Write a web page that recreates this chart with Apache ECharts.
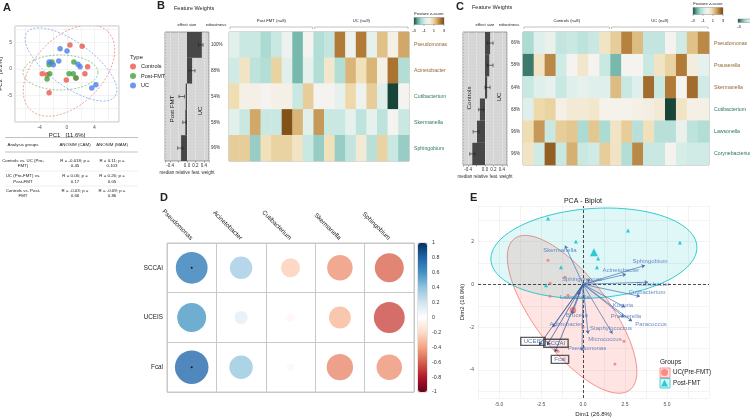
<!DOCTYPE html>
<html><head><meta charset="utf-8">
<script src="https://cdn.jsdelivr.net/npm/echarts@6/dist/echarts.min.js"></script>
<style>html,body{margin:0;padding:0;background:#fff}#c{width:750px;height:417px}</style>
</head><body><div id="c"></div>
<script>
// ---------------- DATA ----------------
// Panel A : PCA of communities
const typeNames = ['Controls', 'Post-FMT', 'UC'];
const pcaControls = [[0.43,4.5],[2.2,4.3],[3.0,0.4],[2.6,-0.9],[-0.1,-2.1],[1.3,-1.7],[-3.6,-0.9],[-2.9,-1.1],[-2.6,-4.5]];
const pcaPostFMT = [[-2.2,1.3],[-2.6,0.8],[-2.5,-0.9],[-2.9,-1.9],[1.0,1.3],[0.3,-0.9],[0.9,-0.9],[1.3,-1.7]];
const pcaUC = [[-1.0,3.8],[0,3.4],[-1.2,1.5],[-2.6,1.3],[-2.0,0.8],[1.6,0.9],[1.9,0.4],[3.6,-3.6],[4.2,-3.0]];
// ellipses (centre + two semi-axis vectors, data units) : Controls, Post-FMT, UC
const ellipseA = [
  {c:[0.29,-0.3], a:[5.66,7.33], b:[3.49,-4.52]},
  {c:[-0.95,-0.66], a:[5.45,0], b:[0,3.3]},
  {c:[0.58,0.85], a:[6.4,-6.03], b:[-1.89,-3.35]}
];
const pcaXTicks = [-4, 0, 4];
const pcaYTicks = [-5, 0, 5];
const tableHeader = ['Analysis groups', 'ANOSIM (CAM)', 'ANOSIM (MAM)'];
const tableRows = [
  [['Controls vs. UC (Pre-', 'FMT)'], ['R = -0.018; p =', '0.45'], ['R = 0.11; p =', '0.103']],
  [['UC (Pre-FMT) vs.', 'Post-FMT'], ['R = 0.06; p =', '0.17'], ['R = 0.26; p =', '0.05']],
  [['Controls vs. Post-', 'FMT'], ['R = -0.03; p =', '0.66'], ['R = -0.09; p =', '0.86']]
];

// Panel B : feature weights Post-FMT vs UC
const taxaB = ['Pseudomonas', 'Acinetobacter', 'Cutibacterium', 'Skermanella', 'Sphingobium'];
const effB = [0.35, 0.12, -0.03, -0.04, -0.14];
const errB = [[0.27,0.38],[0.05,0.19],[-0.19,-0.06],[-0.1,-0.02],[-0.22,-0.1]];
const robB = ['100%', '88%', '54%', '58%', '96%'];
const samplesB = ['P1','P2','P3','P4','P5','P6','P7','P8','U1','U2','U3','U4','U5','U6','U7','U8','U9'];
const groupsB = [['Post FMT (n=8)', 8], ['UC (n=9)', 9]];
const sideB = ['Post FMT', 'UC'];
const heatB = [
  [-0.5,-1,-1,-1.5,-1,-0.2,-2,0, -1.4,-1.1,2.2,-0.2,2.2,-0.4,1.2,0.1,1.6],
  [-0.9,0.5,-1.2,-1.4,0.9,-0.5,-2,-0.4, -1.4,0.4,-1.4,1.4,0.6,1.4,0.1,2.3,-1.4],
  [0.7,0.1,0.1,0,0.1,0.1,-1,1.0, 0,0,-0.4,0.8,-0.2,1.0,-0.6,-3,0],
  [-0.5,-1,1.6,-1,-1,2.8,1.4,-0.5, 1.8,-1,-1,-0.4,-1.2,-0.4,-1.2,0,-1],
  [1.0,1.0,-1.7,0.6,0.9,0.9,0.5,-1, -1.7,0.6,-1.7,-1.1,0.3,-1.3,0.9,-1,-1.7]
];

// Panel C : feature weights Controls vs UC
const taxaC = ['Pseudomonas', 'Prauserella', 'Skermanella', 'Cutibacterium', 'Lawsonella', 'Corynebacterium'];
const effC = [0.12, 0.10, 0.05, -0.12, -0.19, -0.30];
const errC = [[0.06,0.19],[0.06,0.19],[0.0,0.12],[-0.15,-0.03],[-0.28,-0.14],[-0.36,-0.24]];
const robC = ['66%', '58%', '64%', '68%', '96%', '96%'];
const samplesC = ['C1','C2','C3','C4','C5','C6','C7','C8','U1','U2','U3','U4','U5','U6','U7','U8','U9'];
const groupsC = [['Controls (n=8)', 8], ['UC (n=9)', 9]];
const sideC = ['Controls', 'UC'];
const heatC = [
  [-1.5,-0.6,-0.3,-1.1,-1,-1.2,-1, 0.5,1.0,2.1,1.3,-1.1,-1.1,0.0,-0.9,1.2,2.0],
  [-2.6,0.5,2.0,-0.9,0,0.4,0, -1.0,-2.0,0,0,-1.0,0.5,0.9,2.2,0.2,-0.4],
  [-1,-0.6,-0.4,-1,-0.6,-0.4,-0.6, -0.6,1.3,-1,-0.6,2.4,-1,2.2,0,2.4,-0.9],
  [-0.6,0.8,0.9,0.1,0.3,0.3,0.4, 0.05,0.05,0.05,0.1,0.15,0.3,-3,0.5,0.1,0.1],
  [0.7,1.8,-1,1.0,1.1,-1.5,1.1, -1.5,0.5,1.0,-1.3,0.6,-1.3,-1.3,-0.3,-1.2,-1.4],
  [0.5,-0.9,2.6,-1.0,1.5,-1.0,-0.9, 1.0,0.5,-1.4,2.0,-1.0,-1.0,0.0,-0.8,-0.9,-0.9]
];
const effTicks = [-0.4, 0, 0.2, 0.4];
const zTicks = [-3, -1, 1, 3];

// Panel D : correlations
const corrTaxa = ['Pseudomonas', 'Acinetobacter', 'Cutibacterium', 'Skermanella', 'Sphingobium'];
const corrIdx = ['SCCAI', 'UCEIS', 'Fcal'];
const corrSCCAI = [0.70, 0.35, -0.25, -0.45, -0.58];
const corrUCEIS = [0.58, 0.12, -0.05, -0.33, -0.66];
const corrFcal = [0.78, 0.38, 0.04, -0.48, -0.45];
const corrSig = [[true,false,false,false,false],[false,false,false,false,false],[true,false,false,false,false]];

// Panel E : PCA biplot
const groupsE = ['UC(Pre-FMT)', 'Post-FMT'];
const bipUC = [[-2.08,1.12],[-1.07,0.33],[-1.96,0.05],[-1.96,-0.56],[-0.89,-0.51],[-1.49,-3.12],[2.44,-2.65],[1.9,-3.72],[0,-2.0]];
const bipPost = [[-2.08,3.07],[-0.42,2.0],[-1.31,0.79],[-2.2,-0.05],[0.83,0.79],[2.68,2.51],[5.77,1.95],[0.9,1.2]];
const meanUC = [-0.6, -1.21];
const meanPost = [0.65, 1.49];
const ellipseE = [
  {c:[-0.65,-1.4], a:[3.43,-3.53], b:[1.76,1.04]},
  {c:[0.65,1.45], a:[6.13,0.33], b:[0.19,-2.08]}
];
const varNames = ['Skermanella','Sphingobium','Acinetobacter','Sphingomonas','Rubrobacter','Cutibacterium','Lawsonella','Kocuria','Brucella','Prauserella','Arthrobacter','Paracoccus','Staphylococcus','Micrococcus','Pseudomonas'];
const varEnds = [[-1.07,1.81],[3.69,0.88],[2.56,0.47],[0.42,0.23],[3.87,0.1],[3.39,-0.56],[-0.3,-0.5],[2.5,-1.07],[-0.65,-1.4],[2.44,-1.53],[-1.8,-2.0],[2.92,-1.72],[0.3,-2.3],[1.75,-2.3],[-0.06,-3.1]];
const varLabelPos = [[-1.37,1.59],[3.99,1.07],[2.26,0.65],[-0.06,0.23],[4.17,0.0],[3.81,-0.37],[-0.48,-0.61],[2.38,-0.98],[-0.36,-1.45],[2.56,-1.49],[-1.01,-1.86],[4.05,-1.86],[1.67,-2.05],[1.31,-2.56],[0.24,-2.98]];
const supNames = ['UCEIS', 'SCCAI', 'Fcal'];
const supEnds = [[-2.62,-2.84],[-2.14,-2.84],[-1.67,-3.16]];
const supLabelPos = [[-2.98,-2.66],[-1.61,-2.75],[-1.37,-3.5]];

// ---------------- STYLE ----------------
const FONT = 'Liberation Sans, Arial, sans-serif';
const colA = ['#e8574e', '#3da33d', '#4a7fe8'];
const colE = ['#F8766D', '#00BFC4'];
const brbg = ['#17453a','#5ea89b','#acdbd3','#d9eeea','#f5f3ef','#efdcae','#d6b070','#ae7633','#74450f'];
const rdbu = ['#67001F','#B2182B','#D6604D','#F4A582','#FDDBC7','#FFFFFF','#D1E5F0','#92C5DE','#4393C3','#2166AC','#053061'];
const posCol = '#936a35', negCol = '#2f7566';
const blue = '#4670b5';

const near = (v, arr) => arr.some(t => Math.abs(v - t) < 1e-6);

function txt(x, y, text, o = {}) {
  const al = o.align || 'center', va = o.va || 'middle';
  return {type:'text', x, y, rotation:o.rot || 0, silent:true, z:100,
    style:{text, fontSize:o.size || 5, fontFamily:FONT, fontWeight:o.bold ? 'bold' : 'normal',
      fill:o.color || '#222', align:al, verticalAlign:va, textAlign:al, textVerticalAlign:va}};
}
function ln(x1, y1, x2, y2, color, w) {
  return {type:'line', silent:true, z:90, shape:{x1, y1, x2, y2}, style:{stroke:color, lineWidth:w}};
}
function gradBar(x, y, w, h) {
  const stops = brbg.map((c, i) => ({offset:i / (brbg.length - 1), color:c}));
  return {type:'rect', silent:true, z:90, shape:{x, y, width:w, height:h},
    style:{fill:new echarts.graphic.LinearGradient(0, 0, 1, 0, stops), stroke:'#777', lineWidth:0.4}};
}
function ellipsePts(api, e, n) {
  const pts = [];
  for (let k = 0; k < n; k++) {
    const t = 2 * Math.PI * k / n;
    pts.push(api.coord([e.c[0] + e.a[0] * Math.cos(t) + e.b[0] * Math.sin(t),
                        e.c[1] + e.a[1] * Math.cos(t) + e.b[1] * Math.sin(t)]));
  }
  return pts;
}
function errRender(p, api) {
  const lo = api.coord([api.value(1), api.value(0)]);
  const hi = api.coord([api.value(2), api.value(0)]);
  const s = {stroke:'#222', lineWidth:0.6};
  return {type:'group', children:[
    {type:'line', shape:{x1:lo[0], y1:lo[1], x2:hi[0], y2:hi[1]}, style:s},
    {type:'line', shape:{x1:lo[0], y1:lo[1] - 1.8, x2:lo[0], y2:lo[1] + 1.8}, style:s},
    {type:'line', shape:{x1:hi[0], y1:hi[1] - 1.8, x2:hi[0], y2:hi[1] + 1.8}, style:s}
  ]};
}

// ---------------- LAYOUT ----------------
const G = (left, top, width, height, extra = {}) => Object.assign({left, top, width, height, containLabel:false, outerBoundsMode:'none', show:false}, extra);
const grids = [
  G(15, 26, 104, 96, {show:true, borderColor:'#b0b0b0', borderWidth:0.8, backgroundColor:'#fff'}), // 0 A
  G(165, 32, 44, 129, {show:true, borderColor:'#777', borderWidth:0.7, backgroundColor:'#d6d6d6'}), // 1 B bars
  G(229, 32, 180, 129, {show:true, borderColor:'#888', borderWidth:0.7}), // 2 B heat
  G(463, 32, 44, 133, {show:true, borderColor:'#777', borderWidth:0.7, backgroundColor:'#d6d6d6'}), // 3 C bars
  G(523, 32, 186, 133, {show:true, borderColor:'#888', borderWidth:0.7}), // 4 C heat
  G(167, 243, 247, 149, {show:true, borderColor:'#c8c8c8', borderWidth:1}), // 5 D
  G(418, 243, 9, 149, {show:true, borderColor:'#777', borderWidth:0.4}), // 6 D colourbar axis
  G(478, 206, 231, 192) // 7 E
];

const smallLab = {fontSize:4.5, color:'#333', fontFamily:FONT};
const effAxis = (gi) => ({gridIndex:gi, type:'value', min:-0.52, max:0.52, splitNumber:5,
  axisLine:{show:false}, axisTick:{show:true, length:1.5, lineStyle:{color:'#555', width:0.5}},
  axisLabel:Object.assign({margin:2, formatter:v => near(v, effTicks) ? v.toFixed(1) : ''}, smallLab),
  splitLine:{show:true, lineStyle:{color:'#f4f4f4', width:0.5, type:'dashed'}},
  name:'median relative feat. weight', nameLocation:'middle', nameGap:9, nameTextStyle:smallLab});
const robAxis = (gi, taxa, rob, margin) => ({gridIndex:gi, type:'category', data:taxa, inverse:true, position:'right',
  axisLine:{show:false}, axisTick:{show:false}, splitLine:{show:false},
  axisLabel:Object.assign({interval:0, margin, align:'left', formatter:(v, i) => rob[i]}, smallLab)});
const heatX = (gi, samples) => ({gridIndex:gi, type:'category', data:samples, show:false});
const heatY = (gi, taxa, eff) => ({gridIndex:gi, type:'category', data:taxa, inverse:true, position:'right',
  axisLine:{show:false}, axisTick:{show:false}, splitLine:{show:false},
  axisLabel:{interval:0, margin:5, align:'left', fontSize:5.2, fontFamily:FONT,
    color:(v, i) => eff[i] > 0 ? posCol : negCol}});

const xAxes = [
  {gridIndex:0, type:'value', min:-7.56, max:7.56, splitNumber:7,
    axisLine:{show:false}, axisTick:{show:false},
    axisLabel:{fontSize:5, color:'#555', margin:3, fontFamily:FONT, formatter:v => near(v, pcaXTicks) ? String(Math.round(v)) : ''},
    splitLine:{lineStyle:{color:'#ebebeb', width:0.6}},
    name:'PC1   [11.6%]', nameLocation:'middle', nameGap:10, nameTextStyle:{fontSize:6, color:'#222', fontFamily:FONT}},
  effAxis(1), heatX(2, samplesB), effAxis(3), heatX(4, samplesC),
  {gridIndex:5, type:'category', data:corrTaxa, position:'top', axisLine:{show:false}, axisTick:{show:false},
    axisLabel:{interval:0, rotate:45, margin:4, fontSize:6.3, color:'#222', fontFamily:FONT},
    splitLine:{show:true, lineStyle:{color:'#c8c8c8', width:1}}},
  {gridIndex:6, type:'value', min:0, max:1, show:false},
  {gridIndex:7, type:'value', min:-6.25, max:7.5, interval:1.25,
    axisLine:{show:false}, axisTick:{show:false},
    axisLabel:{fontSize:5, color:'#4d4d4d', margin:4, fontFamily:FONT,
      formatter:v => (Math.abs(v) <= 5.01 && Math.abs(v / 2.5 - Math.round(v / 2.5)) < 1e-6) ? v.toFixed(1) : ''},
    splitLine:{lineStyle:{color:'#ebebeb', width:0.6}},
    name:'Dim1 (26.8%)', nameLocation:'middle', nameGap:13, nameTextStyle:{fontSize:6, color:'#222', fontFamily:FONT}}
];
const yAxes = [
  {gridIndex:0, type:'value', min:-10, max:8.1, interval:2.5,
    axisLine:{show:false}, axisTick:{show:false},
    axisLabel:{fontSize:5, color:'#555', margin:3, fontFamily:FONT, formatter:v => near(v, pcaYTicks) ? String(Math.round(v)) : ''},
    splitLine:{lineStyle:{color:'#ebebeb', width:0.6}},
    name:'PC2   [9.2%]', nameLocation:'middle', nameGap:8, nameTextStyle:{fontSize:6, color:'#222', fontFamily:FONT}},
  robAxis(1, taxaB, robB, 2), heatY(2, taxaB, effB), robAxis(3, taxaC, robC, 4), heatY(4, taxaC, effC),
  {gridIndex:5, type:'category', data:corrIdx, inverse:true, axisLine:{show:false}, axisTick:{show:false},
    axisLabel:{interval:0, margin:4, fontSize:6.3, color:'#222', fontFamily:FONT},
    splitLine:{show:true, lineStyle:{color:'#c8c8c8', width:1}}},
  {gridIndex:6, type:'value', min:-1, max:1, interval:0.2, position:'right',
    axisLine:{show:false}, axisTick:{show:false}, splitLine:{show:false},
    axisLabel:{fontSize:5.3, color:'#333', margin:5, fontFamily:FONT}},
  {gridIndex:7, type:'value', min:-5.3, max:3.65, splitNumber:9,
    axisLine:{show:false}, axisTick:{show:false},
    axisLabel:{fontSize:5, color:'#4d4d4d', margin:4, fontFamily:FONT,
      formatter:v => (Math.abs(v - Math.round(v)) < 1e-6 && Math.round(v) % 2 === 0 && v > -5.2) ? String(Math.round(v)) : ''},
    splitLine:{lineStyle:{color:'#ebebeb', width:0.6}},
    name:'Dim2 (19.9%)', nameLocation:'middle', nameGap:8, nameTextStyle:{fontSize:6, color:'#222', fontFamily:FONT}}
];

// ---------------- SERIES ----------------
const series = [];
const ax = (i) => ({xAxisIndex:i, yAxisIndex:i});
[pcaControls, pcaPostFMT, pcaUC].forEach((d, i) => series.push(Object.assign({type:'scatter', name:typeNames[i], data:d,
  symbolSize:5.5, itemStyle:{color:colA[i]}, z:5}, ax(0))));
series.push(Object.assign({type:'custom', clip:true, data:ellipseA.map((e, i) => [e.c[0], e.c[1], i]), encode:{x:0, y:1}, z:3,
  renderItem:(p, api) => ({type:'polygon', shape:{points:ellipsePts(api, ellipseA[p.dataIndex], 90)},
    style:{fill:'none', stroke:colA[p.dataIndex], lineWidth:0.8, lineDash:[2, 1.6], opacity:0.7}})}, ax(0)));

function featureSeries(gBar, gHeat, eff, err, heat) {
  series.push(Object.assign({type:'bar', data:eff, barCategoryGap:'0%', itemStyle:{color:'#474747'}, z:3}, ax(gBar)));
  series.push(Object.assign({type:'custom', data:err.map((e, i) => [i, e[0], e[1]]), encode:{x:[1, 2], y:0}, z:5, renderItem:errRender}, ax(gBar)));
  const hd = [];
  heat.forEach((row, r) => row.forEach((v, c) => hd.push([c, r, v])));
  series.push(Object.assign({type:'heatmap', data:hd, itemStyle:{borderWidth:0}}, ax(gHeat)));
  return series.length - 1;
}
const heatIdxB = featureSeries(1, 2, effB, errB, heatB);
const heatIdxC = featureSeries(3, 4, effC, errC, heatC);

const corrRows = [corrSCCAI, corrUCEIS, corrFcal];
const corrData = [], sigData = [];
corrRows.forEach((row, r) => row.forEach((v, c) => { corrData.push([c, r, v]); if (corrSig[r][c]) sigData.push([c, r]); }));
series.push(Object.assign({type:'scatter', data:corrData, symbolSize:v => Math.sqrt(Math.abs(v[2])) * 38, z:4}, ax(5)));
const corrIdxS = series.length - 1;
series.push(Object.assign({type:'scatter', data:sigData, symbolSize:2, itemStyle:{color:'#000'}, z:6}, ax(5)));
series.push(Object.assign({type:'scatter', data:[]}, ax(6)));

// E
series.push(Object.assign({type:'custom', clip:true, data:ellipseE.map((e, i) => [e.c[0], e.c[1], i]), encode:{x:0, y:1}, z:2,
  renderItem:(p, api) => ({type:'polygon', shape:{points:ellipsePts(api, ellipseE[p.dataIndex], 120)},
    style:{fill:p.dataIndex === 0 ? 'rgba(248,118,109,0.2)' : 'rgba(0,191,196,0.12)', stroke:colE[p.dataIndex], lineWidth:0.8}})}, ax(7)));
series.push(Object.assign({type:'scatter', name:groupsE[0], data:bipUC, symbol:'circle', symbolSize:3, itemStyle:{color:colE[0]}, z:5,
  markLine:{silent:true, symbol:['none', 'none'], label:{show:false}, lineStyle:{type:[3, 2], color:'#222', width:0.8},
    data:[{xAxis:0}, {yAxis:0}]}}, ax(7)));
series.push(Object.assign({type:'scatter', name:groupsE[1] + ' ', data:bipPost, symbol:'triangle', symbolSize:4, itemStyle:{color:colE[1]}, z:5}, ax(7)));
series.push(Object.assign({type:'scatter', data:[meanUC], symbol:'circle', symbolSize:6.5, itemStyle:{color:colE[0]}, z:5}, ax(7)));
series.push(Object.assign({type:'scatter', data:[meanPost], symbol:'triangle', symbolSize:8, itemStyle:{color:colE[1]}, z:5}, ax(7)));
series.push(Object.assign({type:'lines', coordinateSystem:'cartesian2d', z:6, symbol:['none', 'arrow'], symbolSize:3.5,
  lineStyle:{color:blue, width:0.7, opacity:1}, data:varEnds.map(p => ({coords:[[0, 0], p]}))}, ax(7)));
series.push(Object.assign({type:'scatter', z:8, symbolSize:1, itemStyle:{color:'rgba(0,0,0,0)'},
  label:{show:true, position:'inside', formatter:'{b}', fontSize:6, color:blue, fontFamily:FONT},
  data:varLabelPos.map((p, i) => ({name:varNames[i], value:p}))}, ax(7)));
series.push(Object.assign({type:'lines', coordinateSystem:'cartesian2d', z:6, symbol:['none', 'arrow'], symbolSize:3.5,
  lineStyle:{color:'#2c4f91', width:0.7, opacity:1}, data:supEnds.map(p => ({coords:[[0, 0], p]}))}, ax(7)));
series.push(Object.assign({type:'scatter', z:8, symbolSize:1, itemStyle:{color:'rgba(0,0,0,0)'},
  label:{show:true, position:'inside', formatter:'{b}', fontSize:6, color:'#2c4f91', fontFamily:FONT,
    borderColor:'#333', borderWidth:0.7, padding:[1.5, 3, 0.5, 3], backgroundColor:'rgba(255,255,255,0)'},
  data:supLabelPos.map((p, i) => ({name:supNames[i], value:p}))}, ax(7)));

// ---------------- GRAPHICS (titles, table, brackets, colour bars) ----------------
const els = [];
els.push(txt(3, 8, 'A', {size:11, bold:true, align:'left'}));
els.push(txt(157, 6, 'B', {size:11, bold:true, align:'left'}));
els.push(txt(456, 7, 'C', {size:11, bold:true, align:'left'}));
els.push(txt(160, 198, 'D', {size:11, bold:true, align:'left'}));
els.push(txt(470, 198, 'E', {size:11, bold:true, align:'left'}));
// A legend title and table
els.push(txt(130, 57, 'Type', {size:6, align:'left'}));
const tabX = [23, 75, 112];
tableHeader.forEach((h, i) => els.push(txt(tabX[i], 145, h, {size:4.4})));
els.push(ln(5, 137.5, 138, 137.5, '#999', 0.6));
els.push(ln(5, 152, 138, 152, '#999', 0.6));
els.push(ln(5, 171, 138, 171, '#ddd', 0.5));
els.push(ln(5, 186, 138, 186, '#ddd', 0.5));
const rowY = [160.5, 176, 190.5];
tableRows.forEach((row, r) => row.forEach((cell, c) => cell.forEach((t, k) => els.push(txt(tabX[c], rowY[r] + k * 5.5, t, {size:4.4})))));

function featureDecor(titleX, barL, barR, heatL, heatR, nCols, groups, sides, sideX, sideY, cbX, cbY, tickY, fwY, robX) {
  els.push(txt(titleX, fwY, 'Feature Weights', {size:5.5, align:'left'}));
  els.push(txt((barL + barR) / 2, 25, 'effect size', {size:4.2}));
  els.push(txt(robX, 25, 'robustness', {size:4.2}));
  const cw = (heatR - heatL) / nCols;
  let start = 0;
  groups.forEach(([lab, n]) => {
    const x1 = heatL + start * cw + 1, x2 = heatL + (start + n) * cw - 1;
    els.push({type:'polyline', silent:true, z:90, shape:{points:[[x1, 29], [x1, 27], [x2, 27], [x2, 29]]}, style:{stroke:'#999', lineWidth:0.6, fill:'none'}});
    els.push(txt((x1 + x2) / 2, 21, lab, {size:4.2}));
    start += n;
  });
  els.push(txt(sideX[0], sideY[0], sides[0], {size:6.2, rot:Math.PI / 2}));
  els.push(txt(sideX[1], sideY[1], sides[1], {size:6.2, rot:Math.PI / 2}));
  els.push(txt(cbX + 15, cbY - 4, 'Feature z-score', {size:4.2}));
  els.push(gradBar(cbX, cbY, 30, 7));
  zTicks.forEach(t => {
    const x = cbX + (t + 3) / 6 * 30;
    els.push(ln(x, cbY + 7, x, cbY + 8.5, '#555', 0.4));
    els.push(txt(x, tickY, String(t), {size:4.2}));
  });
}
featureDecor(174, 165, 209, 229, 409, 17, groupsB, sideB, [172, 200], [109, 111], 414, 17.5, 31, 8, 216);
featureDecor(472, 463, 507, 523, 709, 17, groupsC, sideC, [469, 499], [98, 97], 693, 7.5, 20.5, 7, 509);
// partially visible neighbouring colour bar at the right edge
els.push(gradBar(738, 19, 30, 3.5));
els.push(txt(739, 26.5, String(zTicks[0]), {size:4.2}));
// E title and legend decorations
els.push(txt(583, 201, 'PCA - Biplot', {size:7}));
els.push(txt(660, 362, 'Groups', {size:6.5, align:'left'}));
els.push({type:'rect', silent:true, z:1, shape:{x:660, y:368, width:10, height:9.5}, style:{fill:'rgba(248,118,109,0.2)', stroke:colE[0], lineWidth:0.7}});
els.push({type:'rect', silent:true, z:1, shape:{x:660, y:378.5, width:10, height:9.5}, style:{fill:'rgba(0,191,196,0.12)', stroke:colE[1], lineWidth:0.7}});

const option = {
  animation:false,
  backgroundColor:'#fff',
  textStyle:{fontFamily:FONT},
  grid:grids,
  xAxis:xAxes,
  yAxis:yAxes,
  visualMap:[
    {type:'continuous', show:false, min:-3, max:3, dimension:2, seriesIndex:[heatIdxB, heatIdxC], inRange:{color:brbg}},
    {type:'continuous', show:true, min:-1, max:1, dimension:2, seriesIndex:corrIdxS, inRange:{color:rdbu},
      orient:'vertical', left:418, top:243, itemWidth:9, itemHeight:149, padding:0, calculable:false, text:null,
      hoverLink:false, borderWidth:0}
  ],
  legend:[
    {data:typeNames, orient:'vertical', left:130, top:63.5, padding:0, itemWidth:6, itemHeight:6, itemGap:3.5,
      icon:'circle', selectedMode:false, textStyle:{fontSize:5.5, color:'#222', fontFamily:FONT}},
    {data:[groupsE[0], groupsE[1] + ' '], orient:'vertical', left:661, top:369, padding:0, itemWidth:7, itemHeight:7,
      itemGap:3.5, itemStyle:{borderWidth:0}, selectedMode:false, textStyle:{fontSize:6.3, color:'#222', fontFamily:FONT}}
  ],
  series,
  graphic:{elements:els}
};
const chart = echarts.init(document.getElementById('c'), null, {renderer:'canvas', width:750, height:417});
chart.setOption(option);
</script></body></html>
